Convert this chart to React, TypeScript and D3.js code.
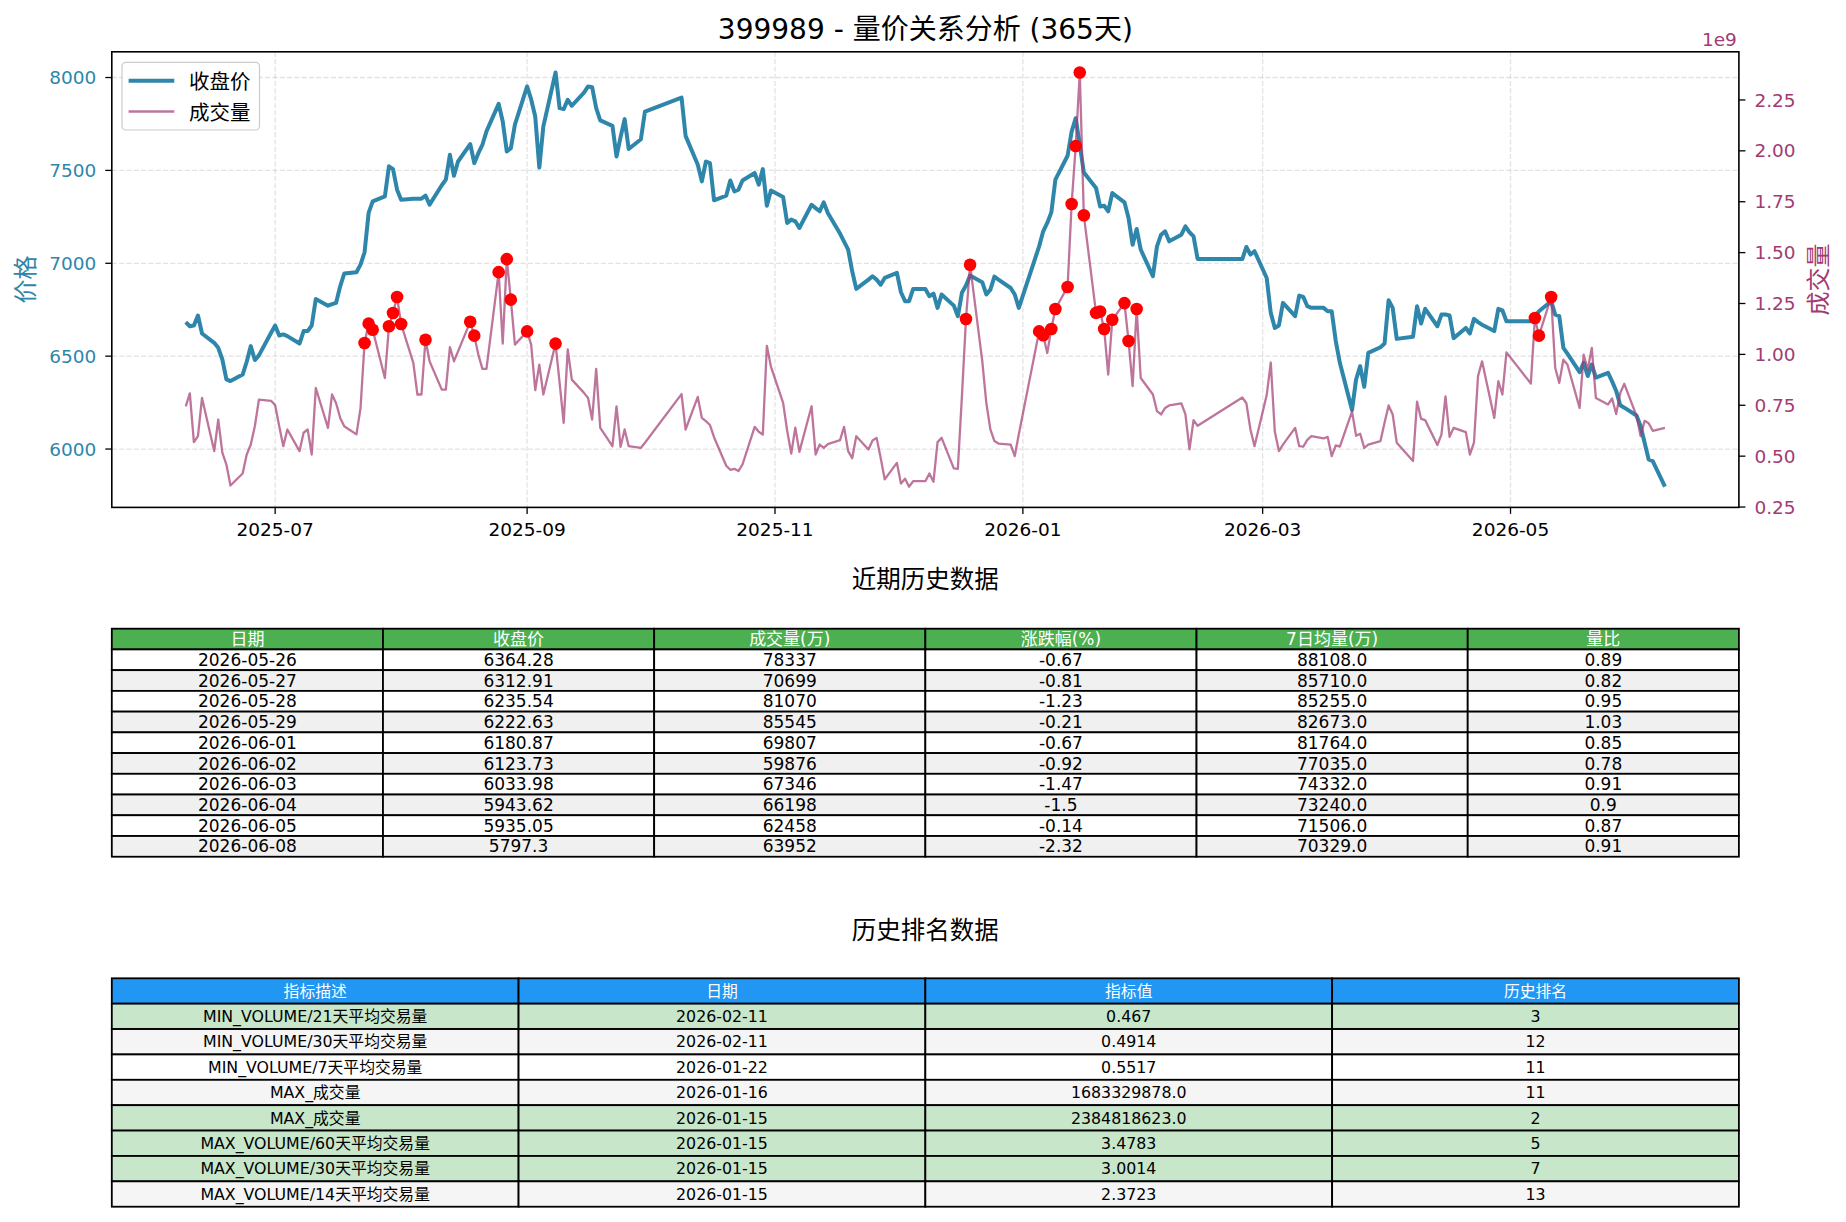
import React from "react";
import * as d3 from "d3";

const W = 1846;
const H = 1222;
const FONT = "'DejaVu Sans', 'Noto Sans CJK SC', sans-serif";

const PRICE_COLOR = "#2E86AB";
const VOL_COLOR = "#A23B72";

// trading days, grouped by month
const tradingDays: [string, number[]][] = [
  ["2025-06", [9, 10, 11, 12, 13, 16, 17, 18, 19, 20, 23, 24, 25, 26, 27, 30]],
  ["2025-07", [1, 2, 3, 4, 7, 8, 9, 10, 11, 14, 15, 16, 17, 18, 21, 22, 23, 24, 25, 28, 29, 30, 31]],
  ["2025-08", [1, 4, 5, 6, 7, 8, 11, 12, 13, 14, 15, 18, 19, 20, 21, 22, 25, 26, 27, 28, 29]],
  ["2025-09", [1, 2, 3, 4, 5, 8, 9, 10, 11, 12, 15, 16, 17, 18, 19, 22, 23, 24, 25, 26, 29, 30]],
  ["2025-10", [9, 10, 13, 14, 15, 16, 17, 20, 21, 22, 23, 24, 27, 28, 29, 30, 31]],
  ["2025-11", [3, 4, 5, 6, 7, 10, 11, 12, 13, 14, 17, 18, 19, 20, 21, 24, 25, 26, 27, 28]],
  ["2025-12", [1, 2, 3, 4, 5, 8, 9, 10, 11, 12, 15, 16, 17, 18, 19, 22, 23, 24, 25, 26, 29, 30, 31]],
  ["2026-01", [5, 6, 7, 8, 9, 12, 13, 14, 15, 16, 19, 20, 21, 22, 23, 26, 27, 28, 29, 30]],
  ["2026-02", [2, 3, 4, 5, 6, 9, 10, 11, 12, 13, 24, 25, 26, 27]],
  ["2026-03", [2, 3, 4, 5, 6, 9, 10, 11, 12, 13, 16, 17, 18, 19, 20, 23, 24, 25, 26, 27, 30, 31]],
  ["2026-04", [1, 2, 3, 7, 8, 9, 10, 13, 14, 15, 16, 17, 20, 21, 22, 23, 24, 27, 28, 29, 30]],
  ["2026-05", [6, 7, 8, 11, 12, 13, 14, 15, 18, 19, 20, 21, 22, 25, 26, 27, 28, 29]],
  ["2026-06", [1, 2, 3, 4, 5, 8]],
];

// close price, one line per month
const closePrice = [
  6683, 6661, 6665, 6719, 6622, 6572, 6545, 6482, 6375, 6366, 6401, 6470, 6554, 6479, 6504, 6626,
  6665, 6611, 6617, 6608, 6568, 6635, 6635, 6665, 6808, 6772, 6780, 6787, 6876, 6945, 6952, 6993, 7059, 7271, 7333, 7360, 7522, 7507, 7396,
  7342, 7348, 7348, 7348, 7364, 7316, 7420, 7450, 7584, 7471, 7548, 7642, 7539, 7593, 7638, 7710, 7858, 7763, 7602, 7620, 7746,
  7952, 7882, 7790, 7515, 7737, 8027, 7835, 7830, 7880, 7848, 7919, 7952, 7948, 7835, 7769, 7740, 7575, 7679, 7776, 7615, 7668, 7817,
  7892, 7686, 7530, 7441, 7548, 7539, 7339, 7364, 7446, 7387, 7396, 7446, 7486, 7423, 7507, 7310, 7392,
  7357, 7217, 7235, 7226, 7190, 7315, 7297, 7280, 7328, 7271, 7160, 7117, 7074, 6957, 6862, 6912, 6930, 6912, 6885, 6921,
  6948, 6844, 6796, 6796, 6862, 6862, 6823, 6837, 6760, 6832, 6772, 6715, 6841, 6880, 6934, 6898, 6832, 6858, 6928, 6912, 6867, 6832, 6760,
  7091, 7172, 7217, 7274, 7450, 7579, 7709, 7781, 7638, 7489, 7405, 7306, 7310, 7280, 7378, 7328, 7244, 7100, 7185, 7074,
  6930, 7091, 7154, 7172, 7118, 7154, 7199, 7167, 7145, 7023, 7023, 7088, 7047, 7065,
  6921, 6733, 6652, 6665, 6787, 6715, 6826, 6819, 6769, 6760, 6760, 6742, 6742, 6581, 6464, 6210, 6375, 6446, 6335, 6518, 6548, 6568,
  6801, 6760, 6593, 6604, 6769, 6676, 6755, 6661, 6724, 6724, 6719, 6597, 6652, 6622, 6701, 6683, 6669, 6635, 6755, 6747, 6688,
  6688, 6715, 6742, 6796, 6724, 6715, 6545, 6514, 6414, 6464, 6393, 6455, 6384, 6410, 6364.28, 6312.91, 6235.54, 6222.63,
  6180.87, 6123.73, 6033.98, 5943.62, 5935.05, 5797.3,
];

// volume in 万
const volumeWan = [
  74500, 80800, 56900, 59800, 78600, 52500, 68000, 51700, 45900, 35600, 41500, 50800, 55700, 64700, 77800, 77200,
  75000, 64700, 54900, 63100, 52500, 61500, 63100, 50800, 83500, 63900, 80300, 76000, 68800, 64700, 60700, 73500, 105600, 115100, 112100, 88400, 113800, 120300, 128200,
  114900, 95800, 80300, 80300, 107200, 96600, 82700, 82700, 103600, 96600, 101500, 116000, 109200, 99900, 92900, 92900, 140400, 105300, 146800, 126900, 104800,
  111300, 104800, 82400, 95000, 80300, 105300, 86000, 66400, 102500, 87600, 81100, 78600, 68000, 92900, 63900, 54900, 74500, 54600, 63100, 54900, 54100, 56600,
  80500, 63100, 79100, 68800, 67200, 65300, 59300, 45300, 43300, 43800, 42700, 45900, 64400, 62000, 60600, 104200, 94000,
  76200, 62500, 51300, 64000, 52100, 74500, 50800, 55700, 54100, 55900, 57900, 64400, 52500, 49000, 59800, 53300, 57700, 59000, 49200, 38600,
  46700, 36500, 38900, 35000, 37700, 37700, 41500, 37400, 56900, 59000, 44000, 43800, 79500, 117400, 144000, 96800, 76200, 63100, 57400, 56200, 55700, 50000, 60800,
  111300, 109400, 100700, 112500, 122300, 133100, 173900, 202400, 238481.8623, 168332.9878, 120400, 121100, 112500, 90100, 117000, 125200, 106600, 84400, 122300, 88400,
  80300, 72100, 70500, 73700, 74900, 75900, 70500, 53300, 67700, 64900, 78800, 76000, 63100, 54900,
  80000, 96000, 62000, 52500, 55700, 63900, 54900, 54700, 58000, 59800, 58700, 59500, 50000, 55300, 54700, 72000, 60000, 61000, 54100, 55700, 57400, 66400,
  74900, 70500, 56600, 47600, 76800, 68300, 67700, 55500, 60600, 79400, 59500, 63900, 61800, 50800, 56600, 89300, 96600, 68800, 86800, 80300, 101000,
  85700, 117900, 109200, 128200, 93300, 86000, 97400, 95000, 73700, 99900, 92500, 103200, 78600, 75400, 78337, 70699, 81070, 85545,
  69807, 59876, 67346, 66198, 62458, 63952,
];

// days flagged as volume spikes (red dots)
const spikeDates = [
  "2025-07-23", "2025-07-24", "2025-07-25", "2025-07-29", "2025-07-30", "2025-07-31", "2025-08-01",
  "2025-08-07", "2025-08-18", "2025-08-19", "2025-08-25", "2025-08-27", "2025-08-28", "2025-09-01",
  "2025-09-08", "2025-12-18", "2025-12-19", "2026-01-05", "2026-01-06", "2026-01-08", "2026-01-09",
  "2026-01-12", "2026-01-13", "2026-01-14", "2026-01-15", "2026-01-16", "2026-01-19", "2026-01-20",
  "2026-01-21", "2026-01-23", "2026-01-26", "2026-01-27", "2026-01-29", "2026-05-07", "2026-05-08",
  "2026-05-11",
];

const priceTicks = [6000, 6500, 7000, 7500, 8000];
const volumeTicks = [0.25, 0.5, 0.75, 1.0, 1.25, 1.5, 1.75, 2.0, 2.25]; // x 1e9

// recent history table
const recentHeaders = ["日期", "收盘价", "成交量(万)", "涨跌幅(%)", "7日均量(万)", "量比"];
const recentDates = ["2026-05-26", "2026-05-27", "2026-05-28", "2026-05-29", "2026-06-01", "2026-06-02", "2026-06-03", "2026-06-04", "2026-06-05", "2026-06-08"];
const recentClose = [6364.28, 6312.91, 6235.54, 6222.63, 6180.87, 6123.73, 6033.98, 5943.62, 5935.05, 5797.3];
const recentVolume = [78337, 70699, 81070, 85545, 69807, 59876, 67346, 66198, 62458, 63952];
const recentChange = [-0.67, -0.81, -1.23, -0.21, -0.67, -0.92, -1.47, -1.5, -0.14, -2.32];
const recentMa7 = [88108, 85710, 85255, 82673, 81764, 77035, 74332, 73240, 71506, 70329];
const recentRatio = [0.89, 0.82, 0.95, 1.03, 0.85, 0.78, 0.91, 0.9, 0.87, 0.91];

// ranking table
const rankHeaders = ["指标描述", "日期", "指标值", "历史排名"];
const rankDesc = [
  "MIN_VOLUME/21天平均交易量", "MIN_VOLUME/30天平均交易量", "MIN_VOLUME/7天平均交易量", "MAX_成交量",
  "MAX_成交量", "MAX_VOLUME/60天平均交易量", "MAX_VOLUME/30天平均交易量", "MAX_VOLUME/14天平均交易量",
];
const rankDate = ["2026-02-11", "2026-02-11", "2026-01-22", "2026-01-16", "2026-01-15", "2026-01-15", "2026-01-15", "2026-01-15"];
const rankValue = ["0.467", "0.4914", "0.5517", "1683329878.0", "2384818623.0", "3.4783", "3.0014", "2.3723"];
const rankPos = [3, 12, 11, 11, 2, 5, 7, 13];

const M = { left: 111.8, right: 1738.9, top: 51.8, bottom: 507.4 };

const padExtent = (lo: number, hi: number): [number, number] => {
  const r = hi - lo;
  return [lo - r * 0.05, hi + r * 0.05];
};

type TableProps = {
  top: number;
  rowH: number;
  headers: string[];
  rows: string[][];
  headerFill: string;
  rowFill: (i: number) => string;
  fontSize: number;
};

const Table = ({ top, rowH, headers, rows, headerFill, rowFill, fontSize }: TableProps) => {
  const colW = (M.right - M.left) / headers.length;
  const all = [headers, ...rows];
  return (
    <g>
      {all.map((r, ri) =>
        r.map((cell, ci) => {
          const x0 = M.left + ci * colW;
          const y0 = top + ri * rowH;
          return (
            <g key={`${ri}-${ci}`}>
              <rect x={x0} y={y0} width={colW} height={rowH}
                fill={ri === 0 ? headerFill : rowFill(ri - 1)} stroke="#000" strokeWidth={1.8} />
              <text x={x0 + colW / 2} y={y0 + rowH / 2 + fontSize * 0.36} textAnchor="middle"
                fontSize={fontSize} fill={ri === 0 ? "#fff" : "#000"}>{cell}</text>
            </g>
          );
        })
      )}
    </g>
  );
};

export default function App() {
  const parse = d3.utcParse("%Y-%m-%d");
  const dates = tradingDays.flatMap(([m, days]) => days.map(d => `${m}-${String(d).padStart(2, "0")}`));
  const series = dates.map((s, i) => ({ key: s, date: parse(s) as Date, close: closePrice[i], vol: volumeWan[i] * 1e4 }));

  const [t0, t1] = padExtent(+series[0].date, +series[series.length - 1].date);
  const x = d3.scaleUtc().domain([new Date(t0), new Date(t1)]).range([M.left, M.right]);
  const yP = d3.scaleLinear().domain(padExtent(d3.min(closePrice)!, d3.max(closePrice)!)).range([M.bottom, M.top]);
  const vMin = d3.min(series, d => d.vol)!;
  const vMax = d3.max(series, d => d.vol)!;
  const yV = d3.scaleLinear().domain(padExtent(vMin, vMax)).range([M.bottom, M.top]);

  const priceLine = d3.line<typeof series[0]>().x(d => x(d.date)).y(d => yP(d.close))(series) || "";
  const volLine = d3.line<typeof series[0]>().x(d => x(d.date)).y(d => yV(d.vol))(series) || "";
  const spikes = series.filter(d => spikeDates.includes(d.key));

  const xTicks = x.ticks(d3.utcMonth.every(2)!);
  const fmt = d3.utcFormat("%Y-%m");

  const recentRows = recentDates.map((d, i) => [
    d, String(recentClose[i]), String(recentVolume[i]), String(recentChange[i]),
    recentMa7[i].toFixed(1), String(recentRatio[i]),
  ]);
  const rankRows = rankDesc.map((d, i) => [d, rankDate[i], rankValue[i], String(rankPos[i])]);

  const midY = (M.top + M.bottom) / 2;
  const tick = 6.5;
  const tickFs = 18.5;

  return (
    <div style={{ position: "absolute", left: 0, top: 0 }}>
      <svg width={W} height={H} style={{ display: "block", background: "#fff" }} fontFamily={FONT}>
        <rect width={W} height={H} fill="#fff" />

        {/* title */}
        <text x={(M.left + M.right) / 2} y={39} textAnchor="middle" fontSize={28} fill="#000">
          399989 - 量价关系分析 (365天)
        </text>

        {/* grid */}
        {xTicks.map(t => (
          <line key={"gx" + +t} x1={x(t)} x2={x(t)} y1={M.top} y2={M.bottom}
            stroke="#b0b0b0" strokeOpacity={0.35} strokeWidth={1.3} strokeDasharray="5.1,2.2" />
        ))}
        {priceTicks.map(t => (
          <line key={"gy" + t} x1={M.left} x2={M.right} y1={yP(t)} y2={yP(t)}
            stroke="#b0b0b0" strokeOpacity={0.35} strokeWidth={1.3} strokeDasharray="5.1,2.2" />
        ))}

        {/* series */}
        <path d={priceLine} fill="none" stroke={PRICE_COLOR} strokeWidth={4} strokeLinejoin="round" />
        <path d={volLine} fill="none" stroke={VOL_COLOR} strokeOpacity={0.7} strokeWidth={2.3} strokeLinejoin="round" />
        {spikes.map(d => (
          <circle key={d.key} cx={x(d.date)} cy={yV(d.vol)} r={6.3} fill="#ff0000" />
        ))}

        {/* frame */}
        <rect x={M.left} y={M.top} width={M.right - M.left} height={M.bottom - M.top}
          fill="none" stroke="#000" strokeWidth={1.6} />

        {/* x axis */}
        {xTicks.map(t => (
          <g key={"xt" + +t}>
            <line x1={x(t)} x2={x(t)} y1={M.bottom} y2={M.bottom + tick} stroke="#000" strokeWidth={1.3} />
            <text x={x(t)} y={M.bottom + 28.5} textAnchor="middle" fontSize={tickFs} fill="#000">{fmt(t)}</text>
          </g>
        ))}

        {/* left axis */}
        {priceTicks.map(t => (
          <g key={"yt" + t}>
            <line x1={M.left - tick} x2={M.left} y1={yP(t)} y2={yP(t)} stroke="#000" strokeWidth={1.3} />
            <text x={M.left - tick - 9} y={yP(t) + tickFs * 0.36} textAnchor="end" fontSize={tickFs} fill={PRICE_COLOR}>{t}</text>
          </g>
        ))}
        <text transform={`translate(26,${midY}) rotate(-90)`} textAnchor="middle" dominantBaseline="central"
          fontSize={24} fill={PRICE_COLOR}>价格</text>

        {/* right axis */}
        {volumeTicks.map(t => (
          <g key={"vt" + t}>
            <line x1={M.right} x2={M.right + tick} y1={yV(t * 1e9)} y2={yV(t * 1e9)} stroke="#000" strokeWidth={1.3} />
            <text x={M.right + tick + 9} y={yV(t * 1e9) + tickFs * 0.36} textAnchor="start" fontSize={tickFs} fill={VOL_COLOR}>
              {t.toFixed(2)}
            </text>
          </g>
        ))}
        <text x={M.right - 2} y={46} textAnchor="end" fontSize={tickFs} fill={VOL_COLOR}>1e9</text>
        <text transform={`translate(1819,${midY}) rotate(-90)`} textAnchor="middle" dominantBaseline="central"
          fontSize={24} fill={VOL_COLOR}>成交量</text>

        {/* legend */}
        <g>
          <rect x={122} y={62.3} width={137.5} height={67.7} rx={4} fill="#fff" fillOpacity={0.8}
            stroke="#cccccc" strokeWidth={1.2} />
          <line x1={128.6} x2={174.3} y1={80.7} y2={80.7} stroke={PRICE_COLOR} strokeWidth={4} />
          <text x={189} y={88.5} fontSize={20.5} fill="#000">收盘价</text>
          <line x1={128.6} x2={174.3} y1={111.5} y2={111.5} stroke={VOL_COLOR} strokeOpacity={0.7} strokeWidth={2.3} />
          <text x={189} y={119.5} fontSize={20.5} fill="#000">成交量</text>
        </g>

        {/* recent history table */}
        <text x={(M.left + M.right) / 2} y={588} textAnchor="middle" fontSize={24.5} fill="#000">近期历史数据</text>
        <Table top={628.7} rowH={20.73} headers={recentHeaders} rows={recentRows} headerFill="#4CAF50"
          rowFill={i => (i % 2 === 0 ? "#ffffff" : "#f0f0f0")} fontSize={17} />

        {/* ranking table */}
        <text x={(M.left + M.right) / 2} y={939} textAnchor="middle" fontSize={24.5} fill="#000">历史排名数据</text>
        <Table top={978.3} rowH={25.38} headers={rankHeaders} rows={rankRows} headerFill="#2196F3"
          rowFill={i => (rankPos[i] <= 10 ? "#C8E6C9" : i % 2 === 0 ? "#ffffff" : "#f5f5f5")} fontSize={15.8} />
      </svg>
    </div>
  );
}
